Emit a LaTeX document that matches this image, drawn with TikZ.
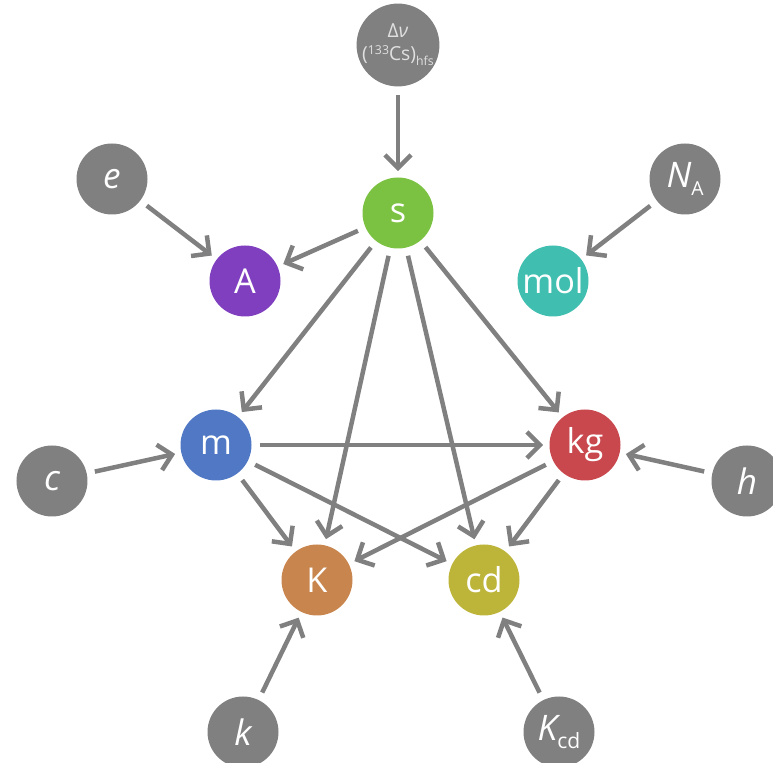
\documentclass[tikz,border=0pt]{standalone}
\usepackage{fontspec}
\setmainfont{Open Sans}
\usetikzlibrary{arrows.meta}

\definecolor{cgrey}{HTML}{808080}
\definecolor{cs}{HTML}{7CC242}
\definecolor{cA}{HTML}{7F3FBF}
\definecolor{cmol}{HTML}{40BFB0}
\definecolor{cm}{HTML}{5078C4}
\definecolor{ckg}{HTML}{C9484E}
\definecolor{cK}{HTML}{C8864E}
\definecolor{ccd}{HTML}{BDB53A}

\begin{document}
\begin{tikzpicture}[
	unit/.style={circle, minimum size=1.42cm, inner sep=0pt, text=white, font=\fontsize{19.5}{21}\selectfont},
	const/.style={unit, fill=cgrey, font=\fontsize{20}{22}\selectfont\itshape},
	link/.style={cgrey, line width=0.9mm, -{Straight Barb[length=2.6mm, width=5.2mm]}, shorten <=1.6mm, shorten >=1.2mm}
]
	%\draw[help lines] (0,0) grid (15,15);
	\useasboundingbox (0,0) rectangle (15.46,15.26);
	% constants
	\node[const, align=center, text=white!88!black, font=\fontsize{11}{13}\selectfont] (dnu) at (7.96,14.36)
		{Δ\textit{ν}\\({\fontsize{7}{7}\selectfont\raisebox{0.9ex}{133}}Cs)\raisebox{-0.5ex}{\fontsize{7}{7}\selectfont hfs}};
	\node[const] (e) at (2.24,11.68) {e};
	\node[const] (NA) at (13.70,11.68) {N\raisebox{-0.45ex}{\upshape\fontsize{11}{11}\selectfont A}};
	\node[const] (c) at (1.04,5.64) {c};
	\node[const] (h) at (14.94,5.64) {h};
	\node[const] (k) at (4.86,0.62) {k};
	\node[const] (Kcd) at (11.18,0.62) {K\raisebox{-0.45ex}{\upshape\fontsize{12}{12}\selectfont cd}};
	% units
	\node[unit, fill=cs] (s) at (7.96,11.0) {s};
	\node[unit, fill=cA] (A) at (4.90,9.64) {A};
	\node[unit, fill=cmol] (mol) at (11.06,9.64) {mol};
	\node[unit, fill=cm] (m) at (4.32,6.36) {m};
	\node[unit, fill=ckg] (kg) at (11.70,6.36) {kg};
	\node[unit, fill=cK] (K) at (6.34,3.66) {K};
	\node[unit, fill=ccd] (cd) at (9.68,3.66) {cd};
	% links
	\draw[link] (dnu) -- (s);
	\draw[link] (e) -- (A);
	\draw[link] (s) -- (A);
	\draw[link] (NA) -- (mol);
	\draw[link] (s) -- (m);
	\draw[link] (s) -- (K);
	\draw[link] (s) -- (cd);
	\draw[link] (s) -- (kg);
	\draw[link] (c) -- (m);
	\draw[link] (m) -- (kg);
	\draw[link] (m) -- (K);
	\draw[link] (m) -- (cd);
	\draw[link] (h) -- (kg);
	\draw[link] (kg) -- (K);
	\draw[link] (kg) -- (cd);
	\draw[link] (k) -- (K);
	\draw[link] (Kcd) -- (cd);
\end{tikzpicture}
\end{document}
